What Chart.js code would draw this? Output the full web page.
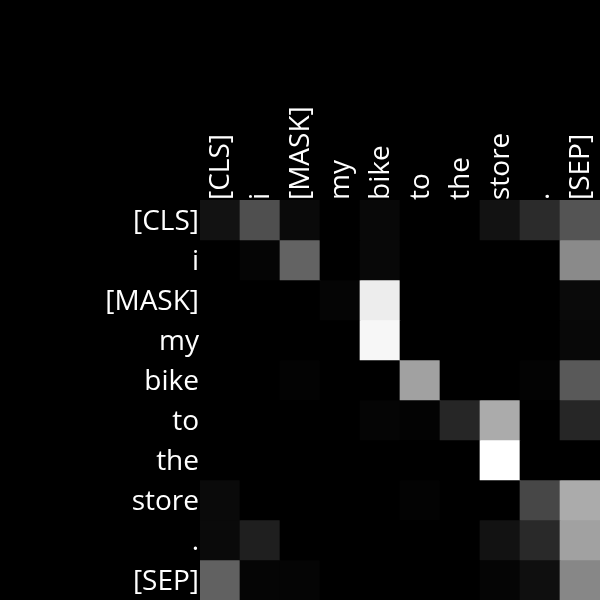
<!DOCTYPE html>
<html>
<head>
<meta charset="utf-8">
<script src="https://cdn.jsdelivr.net/npm/chart.js@4"></script>
<style>
  html, body { margin: 0; padding: 0; background: #000; }
  #wrap { width: 600px; height: 600px; }
</style>
</head>
<body>
<div id="wrap"><canvas id="chartCanvas" width="600" height="600"></canvas></div>
<script>
// tokens on both axes
const tokens = ['[CLS]', 'i', '[MASK]', 'my', 'bike', 'to', 'the', 'store', '.', '[SEP]'];

// attention weights, one row per query token
const rowCLS  = [0.07, 0.31, 0.04, 0.00, 0.03, 0.00, 0.00, 0.07, 0.17, 0.33];
const rowI    = [0.00, 0.02, 0.39, 0.00, 0.03, 0.00, 0.00, 0.00, 0.00, 0.54];
const rowMASK = [0.00, 0.00, 0.00, 0.02, 0.93, 0.00, 0.00, 0.00, 0.00, 0.04];
const rowMy   = [0.00, 0.00, 0.00, 0.00, 0.97, 0.00, 0.00, 0.00, 0.00, 0.03];
const rowBike = [0.00, 0.00, 0.01, 0.00, 0.00, 0.63, 0.00, 0.00, 0.01, 0.35];
const rowTo   = [0.00, 0.00, 0.00, 0.00, 0.02, 0.01, 0.15, 0.67, 0.00, 0.15];
const rowThe  = [0.00, 0.00, 0.00, 0.00, 0.00, 0.00, 0.00, 1.00, 0.00, 0.00];
const rowStore= [0.04, 0.00, 0.00, 0.00, 0.00, 0.01, 0.00, 0.00, 0.28, 0.67];
const rowDot  = [0.04, 0.12, 0.00, 0.00, 0.00, 0.00, 0.00, 0.07, 0.16, 0.63];
const rowSEP  = [0.38, 0.02, 0.02, 0.00, 0.00, 0.00, 0.00, 0.02, 0.06, 0.53];

const rows = [rowCLS, rowI, rowMASK, rowMy, rowBike, rowTo, rowThe, rowStore, rowDot, rowSEP];

function grey(v) {
    const g = Math.round(v * 255);
    return 'rgb(' + g + ',' + g + ',' + g + ')';
}

// each row is a dataset of floating bars spanning [r, r+1]
const datasets = rows.map(function (row, r) {
    return {
        label: tokens[r],
        data: row.map(function () { return [r, r + 1]; }),
        backgroundColor: row.map(grey),
        borderWidth: 0,
        barPercentage: 1.0,
        categoryPercentage: 1.0,
        grouped: false,
    };
});

const labelFont = { family: 'Open Sans', size: 28 };

new Chart(document.getElementById('chartCanvas').getContext('2d'), {
    type: 'bar',
    data: { labels: tokens, datasets: datasets },
    options: {
        responsive: false,
        animation: false,
        events: [],
        layout: { padding: 0 },
        plugins: { legend: { display: false }, tooltip: { enabled: false } },
        scales: {
            x: {
                position: 'top',
                offset: true,
                grid: { display: false, drawTicks: false },
                border: { display: false },
                ticks: {
                    color: '#fff',
                    font: labelFont,
                    minRotation: 90,
                    maxRotation: 90,
                    padding: 0,
                    labelOffset: 35,
                    autoSkip: false,
                },
                afterFit: function (scale) {
                    scale.height = 200;
                    scale.paddingLeft = 0;
                    scale.paddingRight = 0;
                },
            },
            y: {
                min: 0,
                max: 10,
                reverse: true,
                grid: { display: false, drawTicks: false },
                border: { display: false },
                afterBuildTicks: function (scale) {
                    scale.ticks = tokens.map(function (t, i) { return { value: i + 0.5 }; });
                },
                ticks: {
                    color: '#fff',
                    font: labelFont,
                    padding: 1,
                    labelOffset: 2,
                    autoSkip: false,
                    callback: function (value) { return tokens[Math.floor(value)]; },
                },
                afterFit: function (scale) {
                    scale.width = 200;
                    scale.paddingTop = 0;
                    scale.paddingBottom = 0;
                },
            },
        },
    },
});
</script>
</body>
</html>
